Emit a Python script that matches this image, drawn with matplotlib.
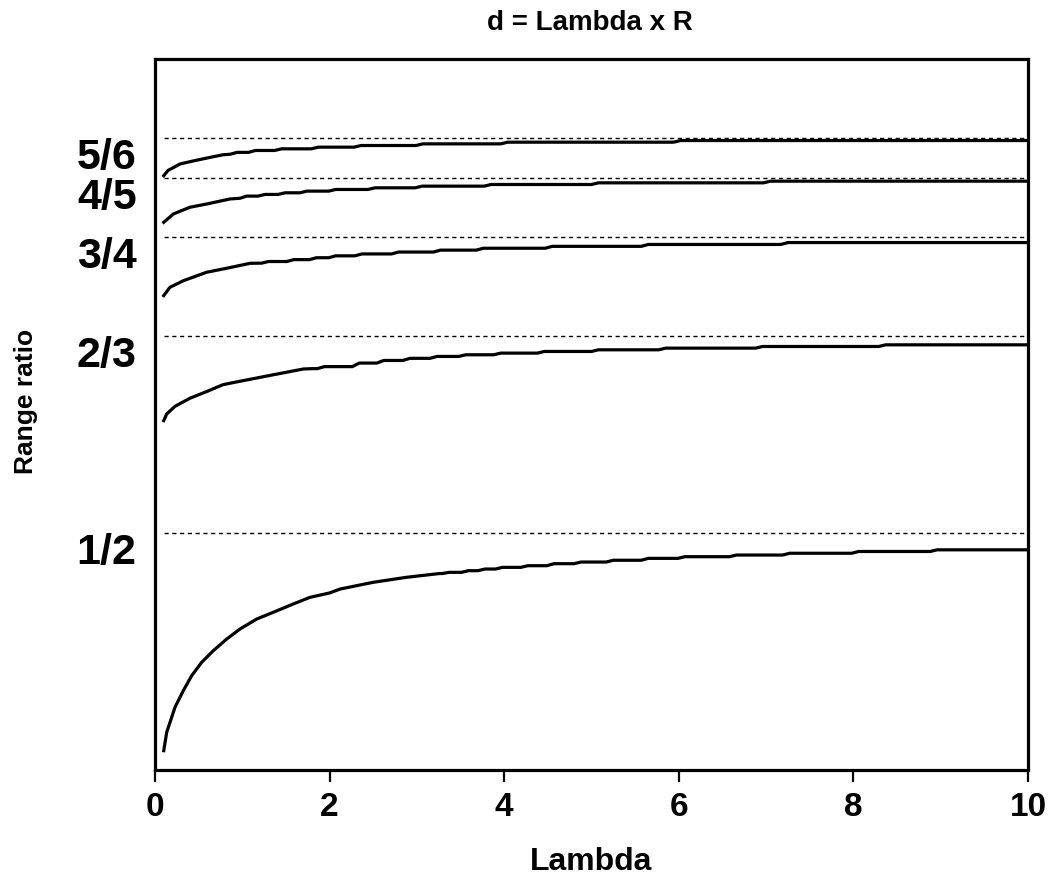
import numpy as np                 # Calculos
import matplotlib
matplotlib.use("Agg")
import matplotlib.pyplot as plt     # Plota os graficos
import matplotlib.transforms as mtransforms

plt.rcParams['font.family'] = ['Liberation Sans', 'DejaVu Sans']
plt.rcParams['font.weight'] = 'bold'

#
# Dados (Lambda x razao de alcance)
# Cada curva: trecho inicial suave + degraus (x do degrau, novo nivel)
#

# Curva que tende a 1/2
x_12 = [0.1, 0.134, 0.229, 0.324, 0.42, 0.535, 0.668, 0.821, 0.974, 1.165,
        1.355, 1.584, 1.775, 2.00, 2.12, 2.5, 2.88, 3.26]
y_12 = [0.3163, 0.3318, 0.3529, 0.3669, 0.3796, 0.3909, 0.4007, 0.4105, 0.4190, 0.4274,
        0.4331, 0.4401, 0.4457, 0.4494, 0.4527, 0.4584, 0.4626, 0.4658]
degraus_12 = [3.33, 3.55, 3.74, 3.94, 4.23, 4.53, 4.84, 5.21, 5.61, 6.03, 6.62, 7.23, 8.02, 8.92]
niveis_12  = [0.4668, 0.4682, 0.4696, 0.4710, 0.4724, 0.4741, 0.4755, 0.4770, 0.4786, 0.4800,
              0.4814, 0.4829, 0.4844, 0.4858]

# Curva que tende a 2/3
x_23 = [0.1, 0.134, 0.229, 0.40, 0.59, 0.78, 0.97, 1.36, 1.70, 1.80]
y_23 = [0.5948, 0.6004, 0.6069, 0.6137, 0.6193, 0.6252, 0.6280, 0.6336, 0.6384, 0.6387]
degraus_23 = [1.90, 2.30, 2.58, 2.88, 3.19, 3.52, 3.92, 4.42, 5.04, 5.81, 6.92, 8.33]
niveis_23  = [0.6404, 0.6434, 0.6456, 0.6474, 0.6490, 0.6504, 0.6518, 0.6532, 0.6546, 0.6560,
              0.6574, 0.6588]

# Curva que tende a 3/4
x_34 = [0.1, 0.17, 0.325, 0.59, 0.82, 1.09, 1.20]
y_34 = [0.7003, 0.7073, 0.7129, 0.7200, 0.7234, 0.7276, 0.7277]
degraus_34 = [1.26, 1.55, 1.81, 2.03, 2.33, 2.75, 3.23, 3.72, 4.51, 5.61, 7.21]
niveis_34  = [0.7291, 0.7307, 0.7323, 0.7339, 0.7355, 0.7371, 0.7387, 0.7403, 0.7419, 0.7435,
              0.7451]

# Curva que tende a 4/5
x_45 = [0.1, 0.21, 0.40, 0.59, 0.86, 0.96]
y_45 = [0.7622, 0.7692, 0.7749, 0.7776, 0.7819, 0.7824]
degraus_45 = [1.01, 1.22, 1.45, 1.70, 2.03, 2.48, 3.02, 3.81, 5.04, 7.01]
niveis_45  = [0.7843, 0.7857, 0.7871, 0.7885, 0.7899, 0.7913, 0.7927, 0.7941, 0.7955, 0.7969]

# Curva que tende a 5/6
x_56 = [0.1, 0.15, 0.29, 0.44, 0.60, 0.78, 0.86]
y_56 = [0.8015, 0.8060, 0.8115, 0.8140, 0.8165, 0.8192, 0.8196]
degraus_56 = [0.90, 1.11, 1.41, 1.83, 2.32, 3.03, 4.00, 5.98]
niveis_56  = [0.8212, 0.8228, 0.8242, 0.8256, 0.8270, 0.8284, 0.8298, 0.8312]

# Assintotas (linhas tracejadas) e seus rotulos
assintotas = [1/2, 2/3, 3/4, 4/5, 5/6]
rotulos    = ["1/2", "2/3", "3/4", "4/5", "5/6"]


def montar_curva(xs, ys, degraus, niveis, x_fim=10.0):   # Junta o trecho suave com os degraus
    x = list(xs)
    y = list(ys)
    nivel = ys[-1]
    for xd, nv in zip(degraus, niveis):
        x += [xd - 0.04, xd + 0.04]
        y += [nivel, nv]
        nivel = nv
    x.append(x_fim)
    y.append(nivel)
    return np.array(x), np.array(y)


curvas = [
    montar_curva(x_12, y_12, degraus_12, niveis_12),
    montar_curva(x_23, y_23, degraus_23, niveis_23),
    montar_curva(x_34, y_34, degraus_34, niveis_34),
    montar_curva(x_45, y_45, degraus_45, niveis_45),
    montar_curva(x_56, y_56, degraus_56, niveis_56),
]

fig = plt.figure(figsize=(10.51, 8.92), dpi=100)
ax = fig.add_axes([155/1051, 1 - 770/892, 873/1051, 711/892])

for a in assintotas:
    ax.plot([0.1, 10], [a, a], color="black", lw=1.0, ls=(0, (3.0, 2.6)))

for cx, cy in curvas:
    ax.plot(cx, cy, color="black", lw=2.3, solid_joinstyle="round")

ax.set_xlim(0, 10)
ax.set_ylim(0.3, 0.9)
ax.set_xticks(range(0, 11, 2))
ax.set_yticks([])
ax.tick_params(axis="x", direction="out", length=8.5, width=1.6, labelsize=24, pad=7)
for s in ax.spines.values():
    s.set_linewidth(2.3)

# Rotulos das fracoes ao lado do eixo
trans = mtransforms.blended_transform_factory(ax.transAxes, ax.transData)
for a, r in zip(assintotas, rotulos):
    ax.text(-0.021, a, r, transform=trans, ha="right", va="top", fontsize=31, fontweight="bold")

fig.text(590/1051, 1 - 23/892, "d = Lambda x R", ha="center", va="center", fontsize=20, fontweight="bold")
fig.text(591/1051, 1 - 862/892, "Lambda", ha="center", va="center", fontsize=23, fontweight="bold")
fig.text(26/1051, 1 - 401/892, "Range ratio", ha="center", va="center", rotation=90,
         fontsize=19, fontweight="bold")

fig.savefig("out.png", dpi=100)
